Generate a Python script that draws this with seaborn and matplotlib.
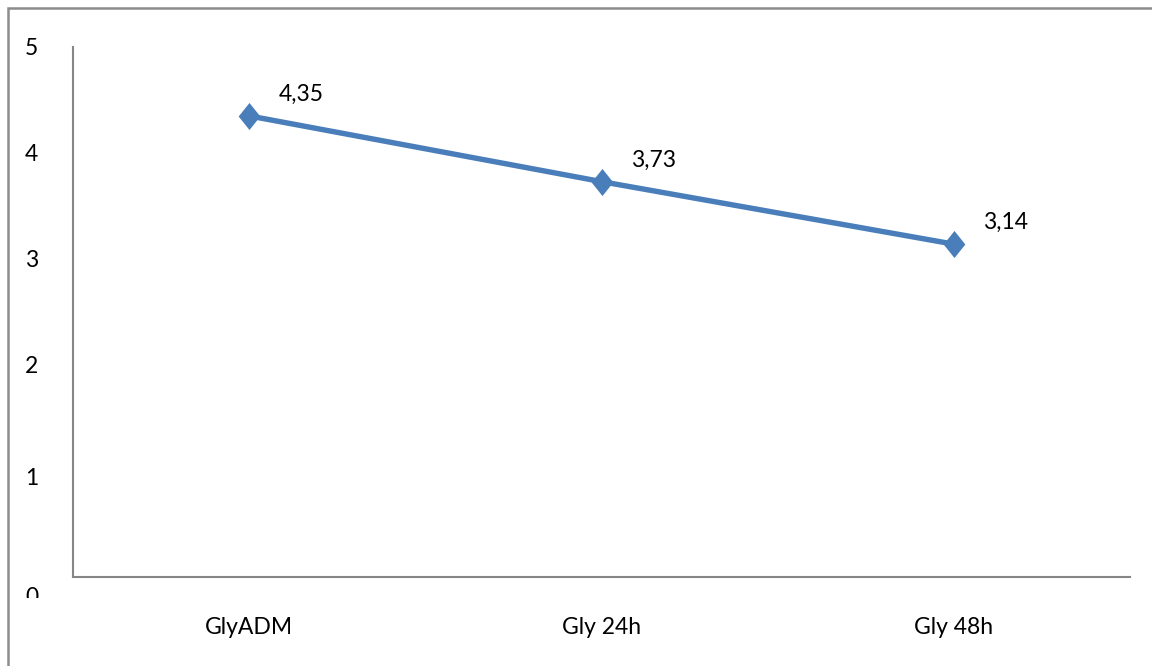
import matplotlib
matplotlib.use("Agg")
import matplotlib.pyplot as plt
import matplotlib.patches as mpatches
from matplotlib.transforms import Affine2D, Bbox, TransformedBbox
import seaborn as sns
import pandas as pd

# Data
categories = ["GlyADM", "Gly 24h", "Gly 48h"]
values = [4.35, 3.73, 3.14]
y_ticks = [0, 1, 2, 3, 4, 5]

sns.set_theme(style="white")
plt.rcParams["font.family"] = ["Lato", "DejaVu Sans"]

W, H, DPI = 1152, 666, 100
fig = plt.figure(figsize=(W / DPI, H / DPI), dpi=DPI)
fig.patch.set_facecolor("white")
ax = fig.add_axes([73 / W, 1 - 577 / H, (1130 - 73) / W, (577 - 47) / H])

df = pd.DataFrame({"cat": categories, "val": values})
df["x"] = range(len(categories))

blue = "#4A7EBB"
diamond = [(0, 1), (0.8, 0), (0, -1), (-0.8, 0), (0, 1)]
sns.lineplot(data=df, x="x", y="val", ax=ax, color=blue, linewidth=3.9,
             marker=diamond, markersize=19.5, markeredgewidth=0,
             markerfacecolor=blue, sort=False)

FS = 16.5
for xi, v in zip(df["x"], df["val"]):
    ax.annotate(f"{v:.2f}".replace(".", ","), xy=(xi, v),
                xytext=(21, 15.5), textcoords="offset points",
                ha="left", va="center", fontsize=FS, color="black")

ax.set_xlim(-0.5, len(categories) - 0.5)
ax.set_ylim(0, 5)
ax.set_xticks(df["x"])
ax.set_xticklabels(categories)
ax.set_yticks(y_ticks)
ax.set_yticklabels([str(t) for t in y_ticks])
ax.set_xlabel("")
ax.set_ylabel("")

for side in ["top", "right"]:
    ax.spines[side].set_visible(False)
for side in ["left", "bottom"]:
    ax.spines[side].set_color("#868686")
    ax.spines[side].set_linewidth(1.5)

ax.tick_params(axis="both", length=0, labelsize=FS, colors="black")
ax.tick_params(axis="y", pad=25)
ax.tick_params(axis="x", pad=29)

# Lower tick labels sit a little below their nominal positions
shifts = {0: -18, 1: -6}
clip = TransformedBbox(Bbox.from_extents(0, (H - 598) / H, 1, 1), fig.transFigure)
for t, lbl in zip(ax.get_yticks(), ax.get_yticklabels()):
    dy = shifts.get(int(round(t)), 0)
    if dy:
        lbl.set_transform(lbl.get_transform() + Affine2D().translate(0, dy))
    if int(round(t)) == 0:
        lbl.set_clip_box(clip)
        lbl.set_clip_on(True)

# Outer frame
frame = mpatches.Rectangle((8 / W, -0.1), 1.2, (H - 8) / H + 0.1,
                           transform=fig.transFigure, fill=False,
                           edgecolor="#8C8C8C", linewidth=1.8, clip_on=False)
fig.patches.append(frame)

fig.savefig("out.png", dpi=DPI, facecolor="white")
